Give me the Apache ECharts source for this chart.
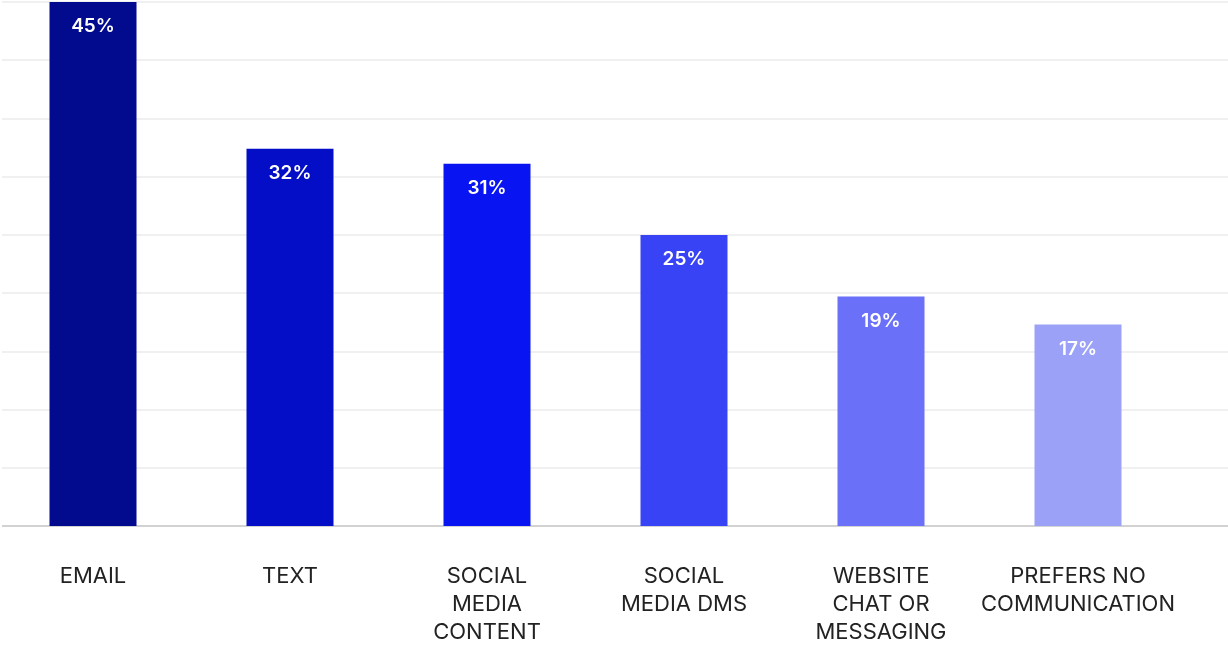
<!DOCTYPE html>
<html>
<head>
<meta charset="utf-8">
<script src="https://cdn.jsdelivr.net/npm/echarts@6/dist/echarts.min.js"></script>
<style>
  html, body { margin: 0; padding: 0; background: #fff; }
  #chart { width: 1228px; height: 647px; }
</style>
</head>
<body>
<div id="chart"></div>
<script>
// channels and share of respondents (%)
var categories = ['EMAIL', 'TEXT', 'SOCIAL\nMEDIA\nCONTENT', 'SOCIAL\nMEDIA DMS', 'WEBSITE\nCHAT OR\nMESSAGING', 'PREFERS NO\nCOMMUNICATION']
var shares = [45, 32.4, 31.1, 25, 19.7, 17.3]
var barColors = ['#020b8e', '#040ec6', '#0914f3', '#3943f6', '#6a71f8', '#9ba1f7']

var chart = echarts.init(document.getElementById('chart'))

chart.setOption({
  animation: false,
  textStyle: { fontFamily: 'Inter, "Noto Sans", sans-serif' },
  grid: [
    // background grid: split lines + baseline across full width
    { left: 2, right: 0, top: 2, bottom: 121, outerBoundsMode: 'none' },
    // bars
    { left: -5.5, width: 1182, top: 2, bottom: 121, outerBoundsMode: 'none' }
  ],
  xAxis: [
    {
      gridIndex: 0,
      type: 'value',
      min: 0,
      max: 1,
      show: true,
      axisLine: { show: false },
      axisTick: { show: false },
      axisLabel: { show: false },
      splitLine: { show: false }
    },
    {
      gridIndex: 1,
      type: 'category',
      data: categories,
      axisLine: { show: false },
      axisTick: { show: false },
      axisLabel: {
        color: '#222',
        fontSize: 22,
        lineHeight: 28,
        margin: 36,
        verticalAlign: 'top',
        interval: 0
      }
    }
  ],
  yAxis: [
    {
      gridIndex: 0,
      type: 'value',
      min: 0,
      max: 45,
      interval: 5,
      axisLine: { show: false },
      axisTick: { show: false },
      axisLabel: { show: false },
      splitLine: { lineStyle: { color: '#f0f0f0', width: 2 } }
    },
    {
      gridIndex: 1,
      type: 'value',
      min: 0,
      max: 45,
      interval: 5,
      show: false
    }
  ],
  series: [
    {
      // baseline
      type: 'line',
      xAxisIndex: 0,
      yAxisIndex: 0,
      data: [[0, 0], [1, 0]],
      symbol: 'none',
      lineStyle: { color: '#d2d2d2', width: 2 },
      silent: true,
      z: 1
    },
    {
      type: 'bar',
      xAxisIndex: 1,
      yAxisIndex: 1,
      barWidth: 87,
      z: 3,
      data: shares.map(function(v, i) {
        return { value: v, itemStyle: { color: barColors[i] } }
      }),
      label: {
        show: true,
        position: 'insideTop',
        distance: 15,
        color: '#fff',
        fontSize: 19,
        fontWeight: 600,
        formatter: function(p) {
          return Math.floor(p.value) + '%'
        }
      }
    }
  ]
})
</script>
</body>
</html>
